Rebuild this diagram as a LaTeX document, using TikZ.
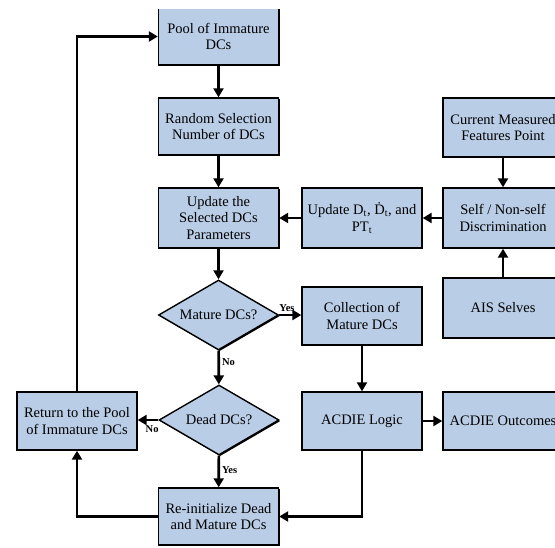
\documentclass[tikz,border=0pt]{standalone}
\usepackage{fontspec}
\setmainfont{Liberation Serif}
\usetikzlibrary{shapes.geometric,arrows.meta,shadows}
\definecolor{boxblue}{HTML}{B9CDE6}
\tikzset{
  x=1pt, y=-1pt,
  base/.style={draw=black, fill=boxblue, line width=1.4pt, align=center,
    inner sep=0pt, font=\fontsize{14.5}{16.5}\selectfont,
    drop shadow={shadow xshift=1.2pt, shadow yshift=-1.2pt, fill=black, opacity=1}},
  box/.style={base, rectangle, minimum width=120pt, minimum height=58pt},
  decision/.style={base, diamond, aspect=1.7, minimum width=120pt, minimum height=70pt},
  arr/.style={line width=2.6pt, -{Triangle[length=9pt, width=10pt]}},
  answer/.style={font=\fontsize{10.5}{11}\bfseries\selectfont, inner sep=1pt}
}
\begin{document}
\begin{tikzpicture}
\useasboundingbox (0,0) rectangle (555,547);

% main column
\node[box, minimum height=57pt] (pool) at (218.5,36.5) {Pool of Immature\\DCs};
\node[box, minimum height=57pt] (random) at (218.5,126.5) {Random Selection\\Number of DCs};
\node[box, minimum height=60pt] (upsel) at (218.5,218) {Update the\\Selected DCs\\Parameters};
\node[decision] (mature) at (218.5,315) {Mature DCs?};
\node[decision] (dead) at (219,420) {Dead DCs?};
\node[box, minimum height=57pt] (reinit) at (218.5,516.5) {Re-initialize Dead\\and Mature DCs};
\node[box] (ret) at (77,421) {Return to the Pool\\of Immature DCs};

% second column
\node[box, minimum height=60pt] (updd) at (362,218) {Update D\textsubscript{t}, Ḋ\textsubscript{t}, and\\PT\textsubscript{t}};
\node[box] (collect) at (362,316) {Collection of\\Mature DCs};
\node[box] (logic) at (362,421) {ACDIE Logic};

% third column
\node[box, minimum height=59pt] (current) at (503,127.5) {Current Measured\\Features Point};
\node[box, minimum height=60pt] (selfns) at (503,218) {Self / Non-self\\Discrimination};
\node[box, minimum height=60pt] (ais) at (503,308) {AIS Selves};
\node[box] (outcome) at (503,421) {ACDIE Outcomes};

% top edge of the pool box runs off the page
\fill[white] (140,-5) rectangle (300,8.8);

% connectors
\draw[arr] (pool) -- (random);
\draw[arr] (random) -- (upsel);
\draw[arr] (upsel) -- (mature);
\draw[arr] (mature) -- node[answer, pos=0.35, above=1pt] {Yes} (collect.west |- mature.east);
\draw[arr] (mature) -- node[answer, pos=0.35, right=1pt] {No} (dead);
\draw[arr] (dead) -- node[answer, pos=0.3, below=3pt] {No} (ret.east |- dead.west);
\draw[arr] (dead) -- node[answer, pos=0.45, right=1pt] {Yes} (reinit);
\draw[arr] (reinit.west) -| (ret.south);
\draw[arr] (ret.north) |- (pool.west);
\draw[arr] (collect) -- (logic);
\draw[arr] (logic) -- (outcome);
\draw[arr] (logic.south) |- (reinit.east);
\draw[arr] (current) -- (selfns);
\draw[arr] (ais) -- (selfns);
\draw[arr] (selfns) -- (updd);
\draw[arr] (updd) -- (upsel);
\end{tikzpicture}
\end{document}
